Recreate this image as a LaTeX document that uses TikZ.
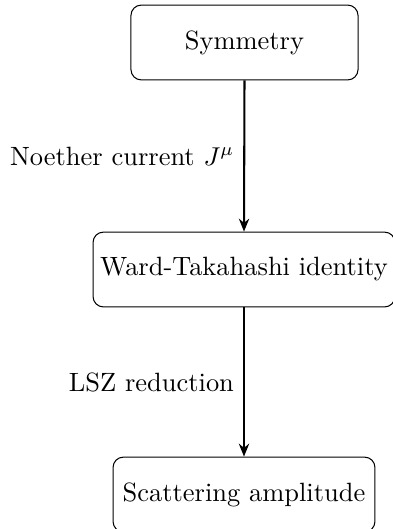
\documentclass[tikz,border=0pt]{standalone}
\usetikzlibrary{arrows.meta}
\begin{document}
\begin{tikzpicture}[x=0.3876pt,y=-0.3876pt,
  every node/.style={font=\fontsize{10.25pt}{12pt}\selectfont},
  stagebox/.style={draw, rounded corners=4pt, line width=0.4pt, inner sep=0pt, minimum height=29pt},
  flowarrow/.style={-{Stealth[length=5pt,width=4pt]}, line width=0.8pt}]
\useasboundingbox (0,0) rectangle (393,529);
\node[stagebox, minimum width=88pt] (sym) at (244.5,42.5) {Symmetry};
\node[stagebox, minimum width=117pt] (ward) at (244,269.5) {Ward-Takahashi identity};
\node[stagebox, minimum width=101.5pt] (scat) at (244,494.5) {Scattering amplitude};
\draw[flowarrow] (sym.south) -- node[left, inner sep=3.5pt] {Noether current $J^\mu$} (ward.north);
\draw[flowarrow] (ward.south) -- node[left, inner sep=3.5pt] {LSZ reduction} (scat.north);
\end{tikzpicture}
\end{document}
